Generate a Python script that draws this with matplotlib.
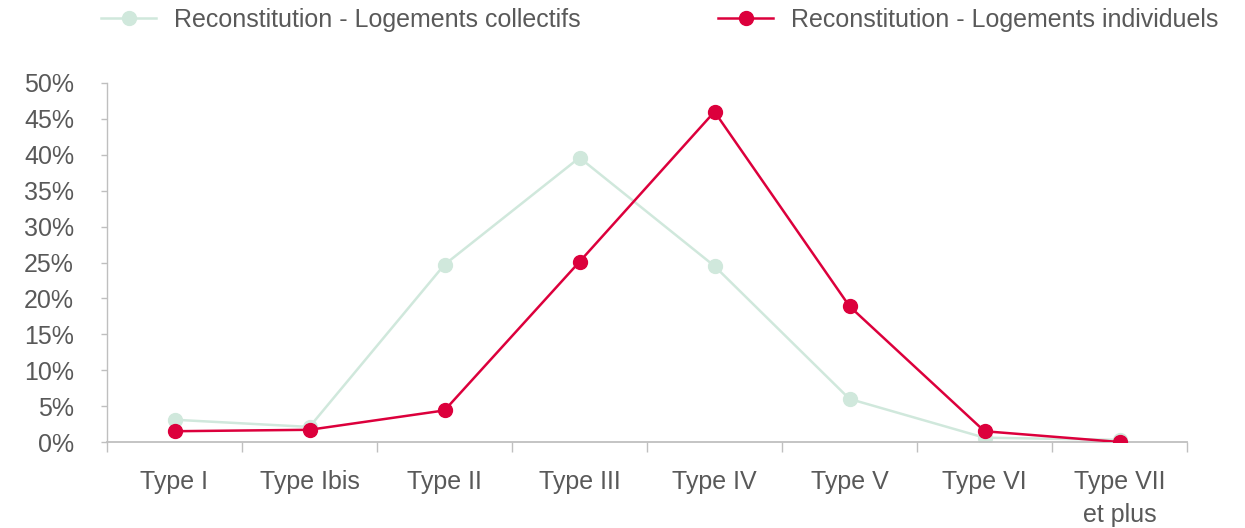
import matplotlib
matplotlib.use("Agg")
import matplotlib.pyplot as plt
from matplotlib.ticker import FixedLocator, FuncFormatter

categories = ["Type I", "Type Ibis", "Type II", "Type III", "Type IV", "Type V", "Type VI", "Type VII\net plus"]
collectifs = [3.1, 2.1, 24.7, 39.6, 24.5, 6.0, 0.6, 0.3]
individuels = [1.5, 1.7, 4.4, 25.1, 46.0, 18.9, 1.5, 0.0]
label_collectifs = "Reconstitution - Logements collectifs"
label_individuels = "Reconstitution - Logements individuels"
yticks = [0, 5, 10, 15, 20, 25, 30, 35, 40, 45, 50]

GREEN = "#D0E8DC"
RED = "#DC003C"
TEXT = "#595959"
AXIS = "#BFBFBF"
FS = 18

plt.rcParams['font.family'] = ['Liberation Sans', 'DejaVu Sans']

fig = plt.figure(figsize=(12.45, 5.28), dpi=100)
ax = fig.add_axes([107/1245, 1 - 442/528, (1187-107)/1245, (442-83)/528])

x = list(range(len(categories)))
l1, = ax.plot(x, collectifs, color=GREEN, lw=1.8, marker='o', ms=10, zorder=2)
l2, = ax.plot(x, individuels, color=RED, lw=1.8, marker='o', ms=10, zorder=3)

ax.set_xlim(-0.5, len(categories) - 0.5)
ax.set_ylim(0, 50)
ax.set_xticks(x)
ax.set_xticklabels(categories, fontsize=FS, color=TEXT, linespacing=1.5)
ax.xaxis.set_minor_locator(FixedLocator([i - 0.5 for i in range(len(categories) + 1)]))
ax.tick_params(axis='x', which='major', length=0, pad=20)
ax.tick_params(axis='x', which='minor', length=7.2, color=AXIS, width=1)
ax.set_yticks(yticks)
ax.yaxis.set_major_formatter(FuncFormatter(lambda v, p: f"{int(v)}%"))
ax.tick_params(axis='y', length=4.3, color=AXIS, width=1, pad=19.4, labelsize=FS, labelcolor=TEXT)

for s in ['top', 'right']:
    ax.spines[s].set_visible(False)
ax.spines['left'].set_color(AXIS)
ax.spines['bottom'].set_color(AXIS)
ax.spines['left'].set_linewidth(1)
ax.spines['bottom'].set_linewidth(1.3)

common = dict(frameon=False, fontsize=FS, handlelength=2.2, handletextpad=0.72,
              borderpad=0, borderaxespad=0, markerscale=1.0, labelcolor=TEXT)
leg1 = fig.legend([l1], [label_collectifs], loc='center left',
                  bbox_to_anchor=(101/1245, 1 - 20/528), **common)
leg2 = fig.legend([l2], [label_individuels], loc='center left',
                  bbox_to_anchor=(718/1245, 1 - 20/528), **common)

fig.savefig("out.png", dpi=100)
